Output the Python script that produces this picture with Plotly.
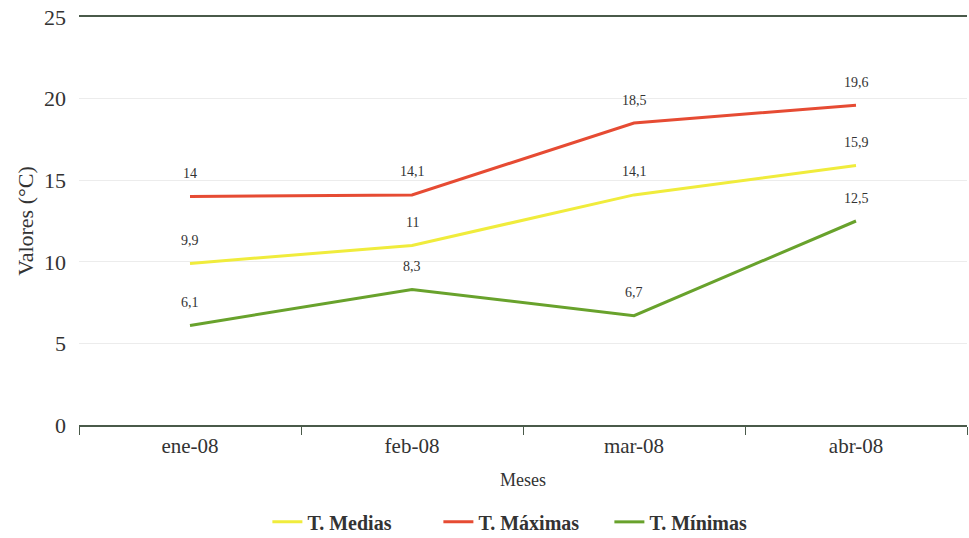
import plotly.graph_objects as go

meses = ["ene-08", "feb-08", "mar-08", "abr-08"]
t_medias = [9.9, 11, 14.1, 15.9]
t_maximas = [14, 14.1, 18.5, 19.6]
t_minimas = [6.1, 8.3, 6.7, 12.5]

series = [
    ("T. Medias", t_medias, "#f0ec3c"),
    ("T. Máximas", t_maximas, "#e64b33"),
    ("T. Mínimas", t_minimas, "#68a22c"),
]

FONT = "Liberation Serif, Times New Roman, serif"
TXT = "#333333"


def etiqueta(v):
    return f"{v:g}".replace(".", ",")


fig = go.Figure()
annotations = []
for nombre, valores, color in series:
    fig.add_trace(go.Scatter(
        x=meses, y=valores, name=nombre, mode="lines",
        line=dict(color=color, width=3),
    ))
    for m, v in zip(meses, valores):
        annotations.append(dict(
            x=m, y=v, text=etiqueta(v), showarrow=False,
            yshift=23, font=dict(family=FONT, size=14, color=TXT),
        ))

fig.update_layout(
    width=969, height=538,
    margin=dict(l=79, r=2, t=17, b=113, autoexpand=False),
    paper_bgcolor="white", plot_bgcolor="white",
    font=dict(family=FONT, color=TXT),
    annotations=annotations,
    showlegend=True,
    legend=dict(
        orientation="h", x=0.501, xanchor="center",
        yref="container", y=0.03, yanchor="middle",
        font=dict(family=FONT, size=20, color=TXT, weight="bold"),
        itemwidth=30, entrywidth=126, entrywidthmode="pixels",
    ),
    xaxis=dict(
        type="category", range=[-0.5, 3.5],
        showline=True, linecolor="#4a5a4a", linewidth=1.5, mirror=True,
        ticks="outside", tickson="boundaries", ticklen=8, tickcolor="#4a5a4a",
        showgrid=False,
        tickfont=dict(family=FONT, size=21, color=TXT),
        ticklabelstandoff=1,
        title=dict(text="Meses", font=dict(family=FONT, size=18, color=TXT), standoff=16),
    ),
    yaxis=dict(
        range=[0, 25], tickvals=[0, 5, 10, 15, 20, 25],
        showline=False, ticks="", zeroline=False,
        showgrid=True, gridcolor="#ececec", gridwidth=1,
        tickfont=dict(family=FONT, size=22, color=TXT),
        ticklabelstandoff=12,
        title=dict(text="Valores (°C)", font=dict(family=FONT, size=22, color=TXT), standoff=4),
    ),
)

fig.write_html("out.html")
